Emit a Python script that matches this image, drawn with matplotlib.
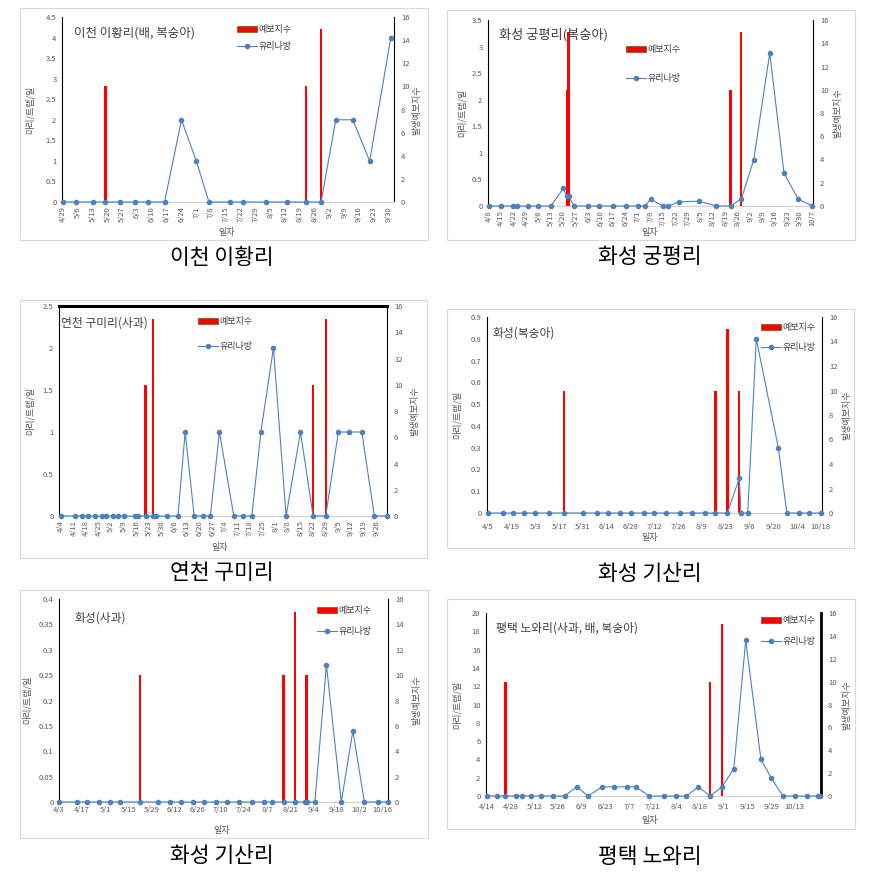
import datetime as dt
import matplotlib
matplotlib.use("Agg")
import matplotlib.pyplot as plt
import matplotlib.dates as mdates
from matplotlib.patches import Rectangle, Patch
from matplotlib.lines import Line2D
from matplotlib.ticker import FuncFormatter

plt.rcParams['font.family'] = ['Noto Sans CJK KR', 'DejaVu Sans']

W, H = 869, 872
YEAR = 2019

# ---- data ----
# 1. 이천 이황리
p1_dates = ['4/29', '5/5', '5/13', '5/19', '5/26', '6/2', '6/8', '6/16', '6/24', '7/1', '7/7',
            '7/17', '7/23', '8/3', '8/13', '8/22', '8/29', '9/5', '9/13', '9/21', '10/1']
p1_vals = [0, 0, 0, 0, 0, 0, 0, 0, 2, 1, 0, 0, 0, 0, 0, 0, 0, 2, 2, 1, 4]
p1_bar_dates = ['5/19', '8/22', '8/29']
p1_bar_vals = [10, 10, 15]
p1_ticks = ['4/29', '5/6', '5/13', '5/20', '5/27', '6/3', '6/10', '6/17', '6/24', '7/1', '7/8',
            '7/15', '7/22', '7/29', '8/5', '8/12', '8/19', '8/26', '9/2', '9/9', '9/16', '9/23', '9/30']

# 2. 화성 궁평리
p2_dates = ['4/8', '4/15', '4/22', '4/24', '4/30', '5/6', '5/13', '5/20', '5/22', '5/23', '5/26',
            '6/3', '6/9', '6/17', '6/24', '7/1', '7/5', '7/8', '7/15', '7/18', '7/24', '8/4',
            '8/14', '8/22', '8/28', '9/4', '9/13', '9/21', '9/29', '10/7']
p2_vals = [0, 0, 0, 0, 0, 0, 0, 0.33, 0.19, 0.19, 0, 0, 0, 0, 0, 0, 0, 0.13, 0, 0, 0.08, 0.09,
           0, 0, 0.13, 0.87, 2.88, 0.62, 0.13, 0]
p2_bar_dates = ['5/22', '5/23', '8/22', '8/28']
p2_bar_vals = [10, 15, 10, 15]
p2_ticks = ['4/8', '4/15', '4/22', '4/29', '5/6', '5/13', '5/20', '5/27', '6/3', '6/10', '6/17',
            '6/24', '7/1', '7/8', '7/15', '7/22', '7/29', '8/5', '8/12', '8/19', '8/26', '9/2',
            '9/9', '9/16', '9/23', '9/30', '10/7']

# 3. 연천 구미리
p3_dates = ['4/4', '4/12', '4/16', '4/19', '4/23', '4/27', '4/29', '5/3', '5/6', '5/9', '5/15',
            '5/17', '5/21', '5/25', '5/27', '6/2', '6/8', '6/12', '6/17', '6/22', '6/26', '7/1',
            '7/9', '7/14', '7/19', '7/24', '7/31', '8/7', '8/15', '8/22', '8/29', '9/5', '9/11',
            '9/18', '9/25', '10/2']
p3_vals = [0] * 17 + [1, 0, 0, 0, 1, 0, 0, 0, 1, 2, 0, 1, 0, 0, 1, 1, 1, 0, 0]
p3_bar_dates = ['5/21', '5/25', '8/22', '8/29']
p3_bar_vals = [10, 15, 10, 15]
p3_ticks = ['4/4', '4/11', '4/18', '4/25', '5/2', '5/9', '5/16', '5/23', '5/30', '6/6', '6/13',
            '6/20', '6/27', '7/4', '7/11', '7/18', '7/25', '8/1', '8/8', '8/15', '8/22', '8/29',
            '9/5', '9/12', '9/19', '9/26']

# 4. 화성 기산리 (복숭아)
p4_dates = ['4/5', '4/14', '4/20', '4/26', '5/3', '5/11', '5/20', '5/31', '6/8', '6/15', '6/22',
            '6/28', '7/6', '7/12', '7/19', '7/27', '8/3', '8/11', '8/17', '8/24', '8/31', '9/1',
            '9/5', '9/10', '9/23', '9/28', '10/5', '10/11', '10/18']
p4_vals = [0] * 20 + [0.16, 0, 0, 0.8, 0.3, 0, 0, 0, 0]
p4_bar_dates = ['5/20', '8/17', '8/24', '8/31']
p4_bar_vals = [10, 10, 15, 10]
p4_ticks = ['4/5', '4/19', '5/3', '5/17', '5/31', '6/14', '6/28', '7/12', '7/26', '8/9', '8/23',
            '9/6', '9/20', '10/4', '10/18']

# 5. 화성 기산리 (사과)
p5_dates = ['4/3', '4/14', '4/20', '4/27', '5/4', '5/10', '5/22', '6/2', '6/9', '6/16', '6/23',
            '6/30', '7/7', '7/14', '7/21', '7/29', '8/5', '8/10', '8/17', '8/24', '8/30', '8/31',
            '9/5', '9/12', '9/21', '9/28', '10/5', '10/13', '10/19']
p5_vals = [0] * 23 + [0.27, 0, 0.14, 0, 0, 0]
p5_bar_dates = ['5/22', '8/17', '8/24', '8/31']
p5_bar_vals = [10, 10, 15, 10]
p5_ticks = ['4/3', '4/17', '5/1', '5/15', '5/29', '6/12', '6/26', '7/10', '7/24', '8/7', '8/21',
            '9/4', '9/18', '10/2', '10/16']

# 6. 평택 노와리
p6_dates = ['4/14', '4/20', '4/25', '5/1', '5/5', '5/10', '5/16', '5/23', '5/30', '6/6', '6/13',
            '6/21', '6/28', '7/6', '7/11', '7/19', '7/28', '8/4', '8/10', '8/17', '8/24', '8/31',
            '9/7', '9/14', '9/23', '9/29', '10/6', '10/13', '10/20', '10/27', '10/28']
p6_vals = [0, 0, 0, 0, 0, 0, 0, 0, 0, 1, 0, 1, 1, 1, 1, 0, 0, 0, 0, 1, 0, 1, 3, 17, 4, 2,
           0, 0, 0, 0, 0]
p6_bar_dates = ['4/25', '8/24', '8/31']
p6_bar_vals = [10, 10, 15]
p6_ticks = ['4/14', '4/28', '5/12', '5/26', '6/9', '6/23', '7/7', '7/21', '8/4', '8/18', '9/1',
            '9/15', '9/29', '10/13']


def d(s):
    m, dd = s.split('/')
    return mdates.date2num(dt.datetime(YEAR, int(m), int(dd)))


def fx(x):
    return x / W


def fy(y):
    return 1 - y / H


fig = plt.figure(figsize=(W / 100, H / 100), dpi=100)

LINE_C = '#4f81bd'
TICK_C = '#595959'

panels = [
    dict(dates=p1_dates, vals=p1_vals, bd=p1_bar_dates, bv=p1_bar_vals, ticks=p1_ticks, rot=90,
         box=(20, 8, 428, 240), ax=(62, 17, 394, 202), xlim=(-0.5, 1.5), xstart='4/29', xend='10/1',
         ymax=4.5, ystep=0.5, title='이천 이황리(배, 복숭아)', tpos=(74, 33), tsize=9,
         leg=(237, 25), lsp=0.9, cap='이천 이황리', cpos=(222, 258),
         yl=(30, 110), yr=(417, 110), xl=(227, 233), top=None, rlw=0.8, xpad=3),
    dict(dates=p2_dates, vals=p2_vals, bd=p2_bar_dates, bv=p2_bar_vals, ticks=p2_ticks, rot=90,
         box=(447, 10, 855, 240), ax=(488, 20, 813, 206), xlim=(-0.3, 0.3), xstart='4/8', xend='10/7',
         ymax=3.5, ystep=0.5, title='화성 궁평리(복숭아)', tpos=(499, 35), tsize=9.5,
         leg=(626, 45), lsp=2.2, cap='화성 궁평리', cpos=(650, 257),
         yl=(462, 113), yr=(838, 113), xl=(650, 233), top=None, rlw=0.8, xpad=3),
    dict(dates=p3_dates, vals=p3_vals, bd=p3_bar_dates, bv=p3_bar_vals, ticks=p3_ticks, rot=90,
         box=(20, 300, 427, 558), ax=(59, 306, 387, 516), xlim=(-1, 0), xstart='4/4', xend='10/2',
         ymax=2.5, ystep=0.5, title='연천 구미리(사과)', tpos=(61, 323), tsize=8.5,
         leg=(198, 317), lsp=1.8, cap='연천 구미리', cpos=(222, 573),
         yl=(30, 411), yr=(415, 411), xl=(220, 547), top=2.2, rlw=0.8, xpad=3),
    dict(dates=p4_dates, vals=p4_vals, bd=p4_bar_dates, bv=p4_bar_vals, ticks=p4_ticks, rot=0,
         box=(447, 309, 854, 548), ax=(487, 317, 822, 513), xlim=(-0.5, 0.7), xstart='4/5', xend='10/18',
         ymax=0.9, ystep=0.1, title='화성(복숭아)', tpos=(493, 333), tsize=8.5,
         leg=(761, 323), lsp=1.2, cap='화성 기산리', cpos=(650, 574),
         yl=(457, 415), yr=(847, 415), xl=(650, 537), top=None, rlw=0.8, xpad=7),
    dict(dates=p5_dates, vals=p5_vals, bd=p5_bar_dates, bv=p5_bar_vals, ticks=p5_ticks, rot=0,
         box=(20, 590, 428, 838), ax=(59, 599, 388, 802), xlim=(0, 0.3), xstart='4/3', xend='10/19',
         ymax=0.4, ystep=0.05, title='화성(사과)', tpos=(75, 618), tsize=8.5,
         leg=(317, 606), lsp=1.3, cap='화성 기산리', cpos=(222, 856),
         yl=(27, 700), yr=(417, 700), xl=(222, 830), top=None, rlw=0.8, xpad=3),
    dict(dates=p6_dates, vals=p6_vals, bd=p6_bar_dates, bv=p6_bar_vals, ticks=p6_ticks, rot=0,
         box=(447, 599, 855, 829), ax=(486, 613, 821, 796), xlim=(-0.5, 0.5), xstart='4/14', xend='10/28',
         ymax=20, ystep=2, title='팽택 노와리(사과, 배, 복숭아)', tpos=(496, 628), tsize=8.5,
         leg=(761, 616), lsp=1.3, cap='평택 노와리', cpos=(650, 857),
         yl=(457, 705), yr=(847, 705), xl=(650, 820), top=None, rlw=2.0, xpad=5),
]

for p in panels:
    # chart area border
    bx0, by0, bx1, by1 = p['box']
    fig.patches.append(Rectangle((fx(bx0), fy(by1)), fx(bx1 - bx0), (by1 - by0) / H,
                                 transform=fig.transFigure, fill=False,
                                 edgecolor='#d9d9d9', linewidth=0.8))

    l, t, r, b = p['ax']
    ax = fig.add_axes([fx(l), fy(b), fx(r - l), (b - t) / H])
    ax2 = ax.twinx()

    x0 = d(p['xstart']) + p['xlim'][0]
    x1 = d(p['xend']) + p['xlim'][1]
    px_per_day = (r - l) / (x1 - x0)
    bw = 2.4 / px_per_day

    ax2.bar([d(s) for s in p['bd']], p['bv'], width=bw, color='#ff0000', linewidth=0)
    ax.plot([d(s) for s in p['dates']], p['vals'], color=LINE_C, linewidth=0.8,
            marker='o', markersize=3.0, clip_on=False, zorder=3)

    ax.set_zorder(ax2.get_zorder() + 1)
    ax.patch.set_visible(False)

    ax.set_xlim(x0, x1)
    ax2.set_xlim(x0, x1)
    ax.set_ylim(0, p['ymax'])
    ax2.set_ylim(0, 16)
    n = int(round(p['ymax'] / p['ystep']))
    ax.set_yticks([i * p['ystep'] for i in range(n + 1)])
    ax.yaxis.set_major_formatter(FuncFormatter(lambda v, pos: ('%.2f' % v).rstrip('0').rstrip('.')))
    ax2.set_yticks(range(0, 17, 2))

    ax.set_xticks([d(s) for s in p['ticks']])
    ax.set_xticklabels(p['ticks'], rotation=p['rot'])

    for a in (ax, ax2):
        a.tick_params(axis='both', length=0, labelsize=5.5, labelcolor=TICK_C, pad=2)
        for s in a.spines.values():
            s.set_visible(False)
    ax.tick_params(axis='y', pad=4)
    ax.tick_params(axis='x', pad=p['xpad'])
    ax2.tick_params(axis='y', pad=5)

    ax.spines['left'].set_visible(True)
    ax.spines['left'].set_color('black')
    ax.spines['left'].set_linewidth(0.8)
    ax.spines['bottom'].set_visible(True)
    ax.spines['bottom'].set_color('#d0d0d0')
    ax.spines['bottom'].set_linewidth(0.8)
    ax2.spines['right'].set_visible(True)
    ax2.spines['right'].set_color('black')
    ax2.spines['right'].set_linewidth(p['rlw'])
    if p['top']:
        ax.spines['top'].set_visible(True)
        ax.spines['top'].set_color('black')
        ax.spines['top'].set_linewidth(p['top'])

    # in-chart title
    fig.text(fx(p['tpos'][0]), fy(p['tpos'][1]), p['title'], fontsize=p['tsize'],
             color='#404040', ha='left', va='center')

    # axis titles
    fig.text(fx(p['yl'][0]), fy(p['yl'][1]), '마리/트랩/일', fontsize=6.5, color=TICK_C,
             rotation=90, ha='center', va='center')
    fig.text(fx(p['yr'][0]), fy(p['yr'][1]), '발생예보지수', fontsize=6.5, color=TICK_C,
             rotation=90, ha='center', va='center')
    fig.text(fx(p['xl'][0]), fy(p['xl'][1]), '일자', fontsize=6.5, color=TICK_C,
             ha='center', va='center')

    # legend
    handles = [Patch(facecolor='#ff0000', edgecolor='#8c5a1a', linewidth=0.6),
               Line2D([], [], color=LINE_C, linewidth=0.8, marker='o', markersize=3.0)]
    fig.legend(handles, ['예보지수', '유리나방'], loc='upper left',
               bbox_to_anchor=(fx(p['leg'][0]), fy(p['leg'][1])), frameon=False,
               fontsize=6.5, handlelength=2.2, handleheight=0.7, handletextpad=0.2,
               labelspacing=p['lsp'], borderpad=0, borderaxespad=0, labelcolor='#404040')

    # caption under panel
    fig.text(fx(p['cpos'][0]), fy(p['cpos'][1]), p['cap'], fontsize=15.5, color='black',
             ha='center', va='center')

fig.savefig('out.png', dpi=100, facecolor='white')
